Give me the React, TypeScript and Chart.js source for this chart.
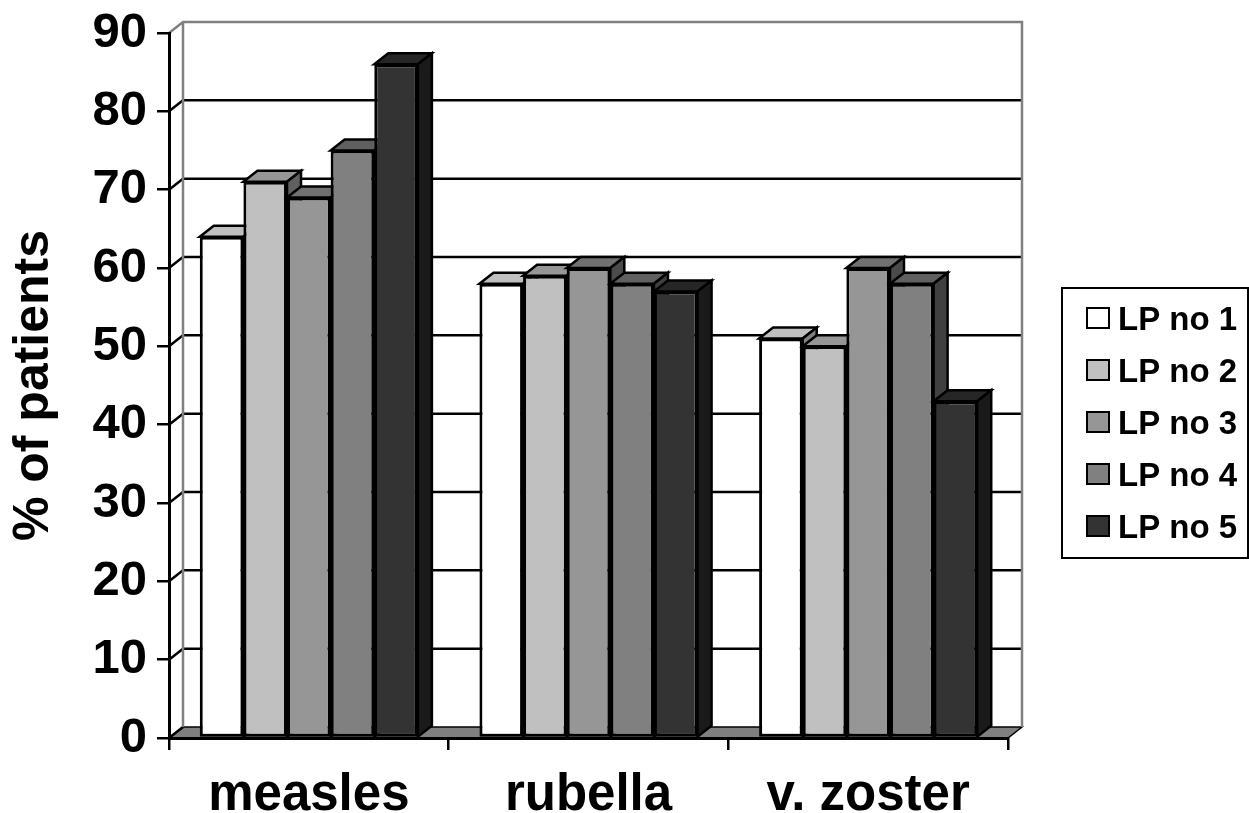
import React, { useEffect, useRef } from "react";
import { Chart, registerables } from "chart.js";

Chart.register(...registerables);

// ---- data ----
const categories = ["measles", "rubella", "v. zoster"];
const seriesLabels = ["LP no 1", "LP no 2", "LP no 3", "LP no 4", "LP no 5"];
const lp1 = [64, 58, 51];
const lp2 = [71, 59, 50];
const lp3 = [69, 60, 60];
const lp4 = [75, 58, 58];
const lp5 = [86, 57, 43];
const seriesValues = [lp1, lp2, lp3, lp4, lp5];
const yTickValues = [0, 10, 20, 30, 40, 50, 60, 70, 80, 90];
const yAxisTitle = "% of patients";

// ---- styles ----
const frontColors = ["#FFFFFF", "#C0C0C0", "#969696", "#808080", "#333333"];
const topColors = ["#C0C0C0", "#969696", "#717171", "#606060", "#262626"];
const sideColors = ["#808080", "#606060", "#4B4B4B", "#404040", "#1A1A1A"];
const FONT = "'Liberation Sans', Arial, Helvetica, sans-serif";
const DX = 14;
const DY = 11;

const poly = (ctx: CanvasRenderingContext2D, pts: number[][]) => {
  ctx.beginPath();
  ctx.moveTo(pts[0][0], pts[0][1]);
  for (let i = 1; i < pts.length; i++) ctx.lineTo(pts[i][0], pts[i][1]);
  ctx.closePath();
};

const threeD = {
  id: "threeD",
  beforeDraw(chart: any) {
    const { ctx, chartArea: a } = chart;
    const y = chart.scales.y;
    const L = a.left, R = a.right, B = a.bottom;
    const T = y.getPixelForValue(yTickValues[yTickValues.length - 1]);
    ctx.save();
    // floor
    poly(ctx, [[L, B], [R, B], [R + DX, B - DY], [L + DX, B - DY]]);
    ctx.fillStyle = "#808080";
    ctx.fill();
    ctx.strokeStyle = "#000";
    ctx.lineWidth = 1.5;
    ctx.stroke();
    // back wall gridlines + side diagonals
    ctx.strokeStyle = "#000";
    ctx.lineWidth = 2.5;
    yTickValues.forEach((v, i) => {
      if (i === 0 || i === yTickValues.length - 1) {
        if (i === 0) {
          ctx.beginPath();
          ctx.moveTo(L, B);
          ctx.lineTo(L + DX, B - DY);
          ctx.stroke();
        }
        return;
      }
      const yy = y.getPixelForValue(v);
      ctx.beginPath();
      ctx.moveTo(L, yy);
      ctx.lineTo(L + DX, yy - DY);
      ctx.lineTo(R + DX, yy - DY);
      ctx.stroke();
    });
    // wall edges (grey)
    ctx.strokeStyle = "#808080";
    ctx.lineWidth = 2.5;
    ctx.beginPath();
    ctx.moveTo(L, T);
    ctx.lineTo(L + DX, T - DY);
    ctx.lineTo(R + DX, T - DY);
    ctx.lineTo(R + DX, B - DY);
    ctx.moveTo(L + DX, T - DY);
    ctx.lineTo(L + DX, B - DY);
    ctx.stroke();
    ctx.restore();
  },
  beforeDatasetsDraw(chart: any) {
    const ctx = chart.ctx;
    chart.data.datasets.forEach((_ds: any, i: number) => {
      const meta = chart.getDatasetMeta(i);
      if (meta.hidden) return;
      meta.data.forEach((el: any) => {
        const { x, y: top, base, width } = el.getProps(["x", "y", "base", "width"], true);
        const l = x - width / 2;
        const r = x + width / 2;
        el.draw(ctx);
        ctx.save();
        ctx.lineJoin = "miter";
        ctx.strokeStyle = "#000";
        ctx.lineWidth = 2.5;
        poly(ctx, [[l, top], [l + DX, top - DY], [r + DX, top - DY], [r, top]]);
        ctx.fillStyle = topColors[i];
        ctx.fill();
        ctx.stroke();
        poly(ctx, [[r, top], [r + DX, top - DY], [r + DX, base - DY], [r, base]]);
        ctx.fillStyle = sideColors[i];
        ctx.fill();
        ctx.stroke();
        ctx.restore();
      });
    });
    return false;
  },
  afterDraw(chart: any) {
    const ctx = chart.ctx;
    const lx = chart.width - 187;
    const ly = 288;
    const lw = 186;
    const lh = 270;
    ctx.save();
    ctx.strokeStyle = "#000";
    ctx.lineWidth = 2;
    ctx.strokeRect(lx, ly, lw, lh);
    chart.data.datasets.forEach((ds: any, i: number) => {
      const cy = ly + 30 + i * 52;
      ctx.fillStyle = ds.backgroundColor;
      ctx.fillRect(lx + 25, cy - 10, 22, 20);
      ctx.lineWidth = 2;
      ctx.strokeStyle = "#000";
      ctx.strokeRect(lx + 25, cy - 10, 22, 20);
      ctx.fillStyle = "#000";
      ctx.font = `bold 33px ${FONT}`;
      ctx.textAlign = "left";
      ctx.textBaseline = "alphabetic";
      ctx.fillText(ds.label, lx + 56, cy + 12);
    });
    ctx.restore();
  },
};

export default function App() {
  const canvasRef = useRef<HTMLCanvasElement | null>(null);

  useEffect(() => {
    document.body.style.margin = "0";
    const canvas = canvasRef.current;
    if (!canvas) return;
    const chart = new Chart(canvas, {
      type: "bar",
      data: {
        labels: categories,
        datasets: seriesValues.map((vals, i) => ({
          label: seriesLabels[i],
          data: vals,
          backgroundColor: frontColors[i],
          borderColor: "#000",
          borderWidth: 3,
          borderSkipped: false,
          categoryPercentage: 0.78,
          barPercentage: 1,
        })),
      },
      options: {
        animation: false,
        responsive: true,
        maintainAspectRatio: false,
        devicePixelRatio: 1,
        layout: { padding: { left: 0, right: 241, top: 33, bottom: 0 } },
        plugins: {
          legend: { display: false },
          tooltip: { enabled: false },
        },
        scales: {
          x: {
            type: "category",
            offset: true,
            grid: {
              offset: true,
              drawOnChartArea: false,
              drawTicks: true,
              tickLength: 12,
              color: "#000",
              lineWidth: 2.5,
            },
            border: { display: true, color: "#000", width: 3 },
            ticks: {
              color: "#000",
              font: { family: FONT, size: 51, weight: "bold" },
              padding: 15,
              maxRotation: 0,
            },
            afterFit: (s: any) => {
              s.height = 75;
              s.paddingLeft = 0;
              s.paddingRight = 0;
            },
          },
          y: {
            min: 0,
            max: 90,
            afterBuildTicks: (s: any) => {
              s.ticks = yTickValues.map((v) => ({ value: v }));
            },
            grid: {
              drawOnChartArea: false,
              drawTicks: true,
              tickLength: 12,
              color: "#000",
              lineWidth: 2.5,
            },
            border: { display: true, color: "#000", width: 3 },
            ticks: {
              color: "#000",
              font: { family: FONT, size: 49, weight: "bold" },
              padding: 10,
            },
            title: {
              display: true,
              text: yAxisTitle,
              color: "#000",
              font: { family: FONT, size: 50, weight: "bold", lineHeight: 1.1 },
              padding: { top: 7, bottom: 0 },
            },
            afterFit: (s: any) => {
              s.width = 169;
              s.paddingTop = 0;
              s.paddingBottom = 0;
            },
          },
        },
      },
      plugins: [threeD],
    });
    return () => chart.destroy();
  }, []);

  return (
    <div style={{ width: 1249, height: 813, position: "relative" }}>
      <canvas ref={canvasRef} />
    </div>
  );
}
